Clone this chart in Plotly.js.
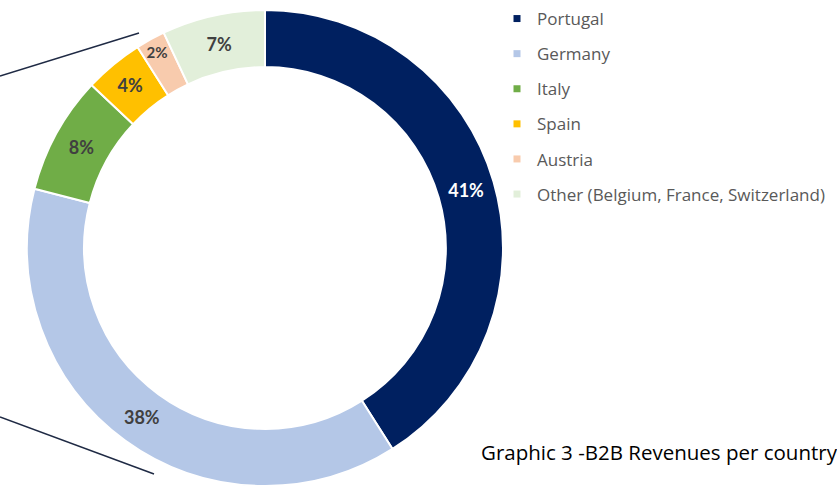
<!DOCTYPE html>
<html>
<head>
<meta charset="utf-8">
<script src="https://cdn.plot.ly/plotly-3.0.1.min.js"></script>
<style>html,body{margin:0;padding:0;background:#fff;}#chart{width:837px;height:488px;}</style>
</head>
<body>
<div id="chart"></div>
<script>
const countries = ['Portugal', 'Germany', 'Italy', 'Spain', 'Austria', 'Other (Belgium, France, Switzerland)'];
const shares = [41, 38, 8, 4, 2, 7];
const sliceColors = ['#002060', '#B4C7E7', '#70AD47', '#FFC000', '#F8CBAD', '#E2EFDA'];
const labelColors = ['#ffffff', '#404040', '#404040', '#404040', '#404040', '#404040'];
const captionText = 'Graphic 3 -B2B Revenues per country';

const W = 837, H = 488;
const px = v => v / W;
const py = v => 1 - v / H;

const pie = {
  type: 'pie',
  values: shares,
  labels: countries,
  sort: false,
  direction: 'clockwise',
  rotation: 0,
  hole: 0.76,
  marker: { colors: sliceColors, line: { color: '#ffffff', width: 2 } },
  texttemplate: '%{percent:.0%}',
  textposition: 'inside',
  insidetextorientation: 'horizontal',
  insidetextfont: { family: 'Lato, "Open Sans", sans-serif', size: 18, color: labelColors, weight: 'bold' },
  showlegend: false,
  hoverinfo: 'label+percent',
  domain: { x: [px(27), px(503)], y: [py(486), py(10)] }
};

const legendTraces = countries.map((c, i) => ({
  type: 'scatter',
  x: [null], y: [null],
  mode: 'markers',
  name: c,
  legendgroup: 'g' + i,
  marker: { symbol: 'square', size: 7, color: sliceColors[i] },
  showlegend: true,
  hoverinfo: 'skip'
}));

const layout = {
  width: W, height: H,
  margin: { l: 0, r: 0, t: 0, b: 0 },
  paper_bgcolor: '#ffffff',
  plot_bgcolor: '#ffffff',
  xaxis: { visible: false, domain: [0.99, 1] },
  yaxis: { visible: false, domain: [0.99, 1] },
  showlegend: true,
  legend: {
    x: px(497), y: py(1), xanchor: 'left', yanchor: 'top',
    font: { family: '"Open Sans", sans-serif', size: 17, color: '#595959' },
    tracegroupgap: 10,
    itemwidth: 30,
    bgcolor: 'rgba(0,0,0,0)'
  },
  shapes: [
    { type: 'line', xref: 'paper', yref: 'paper', x0: 0, y0: py(76), x1: px(139), y1: py(33), line: { color: '#1F2A44', width: 1.5 } },
    { type: 'line', xref: 'paper', yref: 'paper', x0: 0, y0: py(417), x1: px(154), y1: py(474), line: { color: '#1F2A44', width: 1.5 } }
  ],
  annotations: [
    { text: captionText, xref: 'paper', yref: 'paper', x: px(479), y: py(452), xanchor: 'left', yanchor: 'middle', showarrow: false,
      font: { family: '"Open Sans", sans-serif', size: 20.5, color: '#000000' } }
  ]
};

Plotly.newPlot('chart', [pie].concat(legendTraces), layout, { displayModeBar: false, staticPlot: true });
</script>
</body>
</html>
